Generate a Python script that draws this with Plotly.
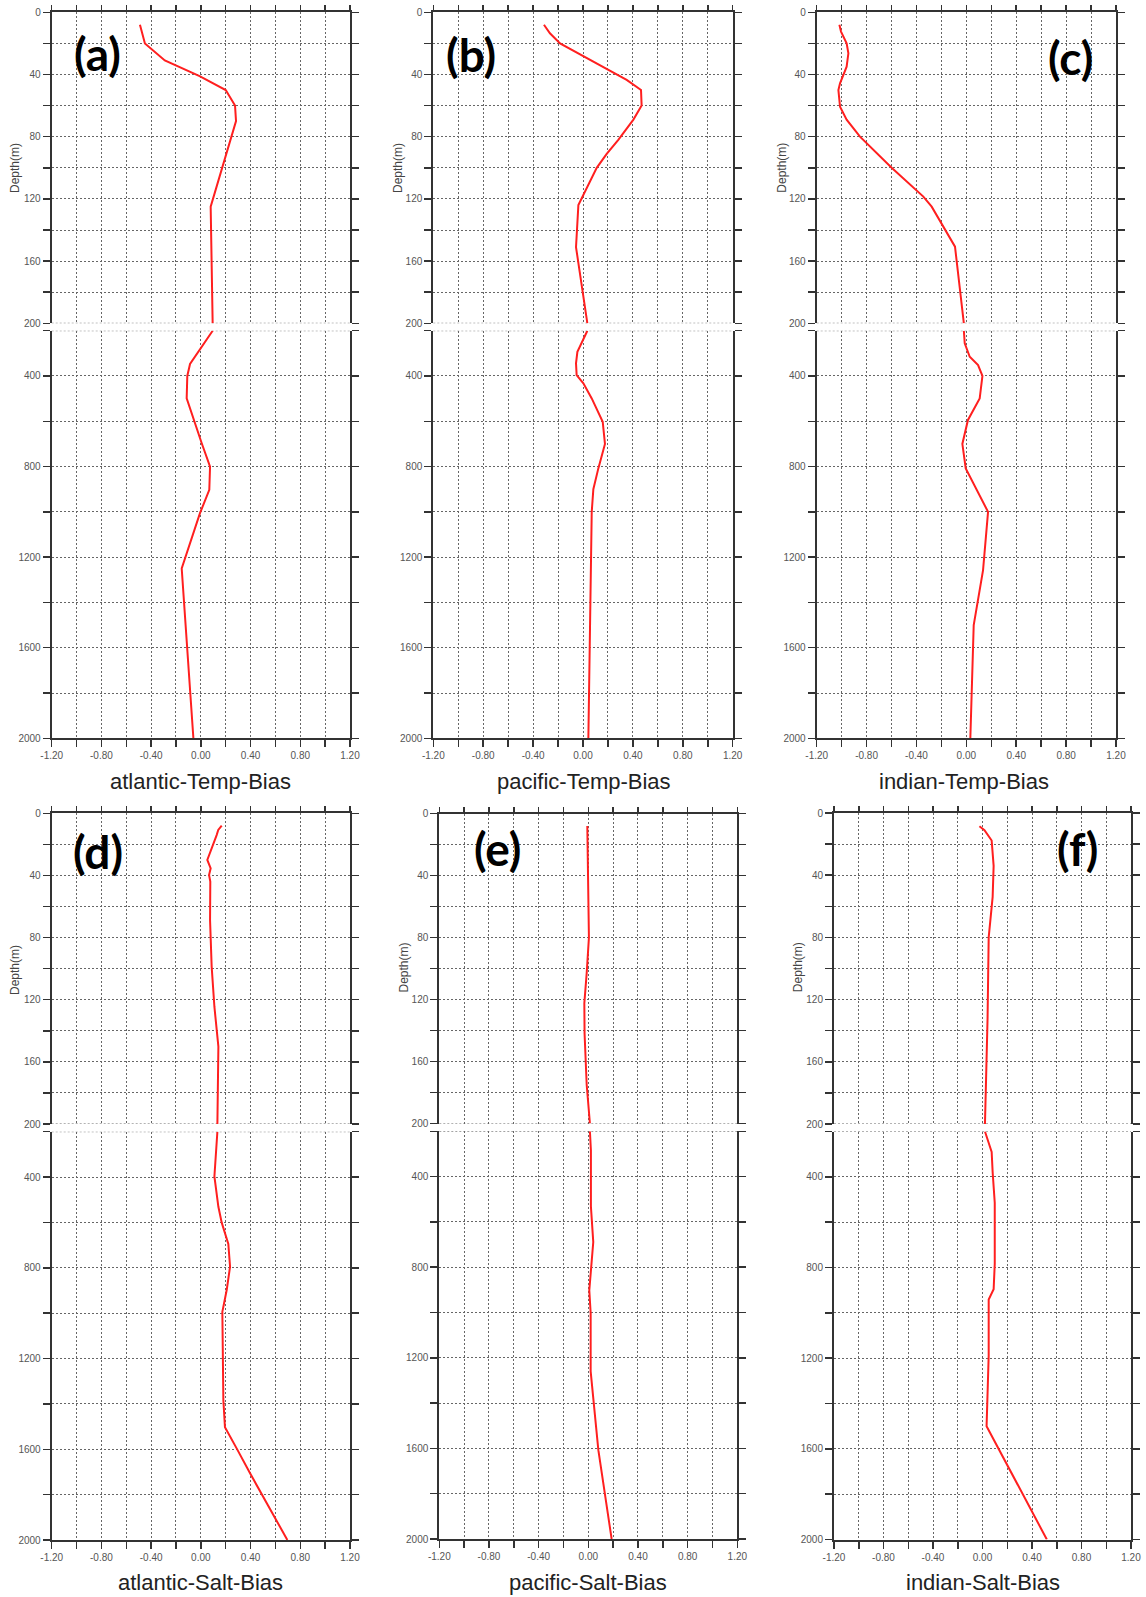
import numpy as np
import plotly.graph_objects as go

W, H = 1146, 1597

# ---------------- data ----------------
titles = ["atlantic-Temp-Bias", "pacific-Temp-Bias", "indian-Temp-Bias",
          "atlantic-Salt-Bias", "pacific-Salt-Bias", "indian-Salt-Bias"]
panel_labels = ["(a)", "(b)", "(c)", "(d)", "(e)", "(f)"]

depth_atl_t = [8, 20, 31, 41, 50, 60, 70, 125, 200, 347, 400, 499, 697, 800, 903, 1006, 1250, 2000]
bias_atl_t = [-0.49, -0.45, -0.29, -0.01, 0.20, 0.275, 0.283, 0.079, 0.095, -0.087, -0.109, -0.114,
              0.007, 0.074, 0.068, -0.007, -0.154, -0.06]

depth_pac_t = [8, 13.5, 20, 33, 43.5, 50, 60, 69, 82, 91, 100, 124, 151, 200, 293, 344, 396, 432, 499,
               602, 700, 808, 900, 1000, 2000]
bias_pac_t = [-0.313, -0.265, -0.184, 0.11, 0.35, 0.465, 0.47, 0.404, 0.283, 0.19, 0.11, -0.037, -0.056,
              0.035, -0.045, -0.056, -0.051, 0.003, 0.07, 0.158, 0.176, 0.123, 0.083, 0.07, 0.043]

depth_ind_t = [8, 12.4, 20, 26.4, 35, 45.7, 50, 56.4, 60.7, 69, 80, 100, 118.5, 125, 140, 150.7, 200,
               256, 315, 352, 400, 499, 594, 700, 808, 1000, 1257, 1500, 2000]
bias_ind_t = [-1.018, -1.005, -0.96, -0.946, -0.96, -1.013, -1.026, -1.021, -1.013, -0.96, -0.853,
              -0.599, -0.345, -0.278, -0.171, -0.091, -0.02, -0.013, 0.027, 0.094, 0.129, 0.107,
              0.013, -0.032, -0.005, 0.174, 0.134, 0.059, 0.032]

depth_atl_s = [8, 10.7, 14, 19.3, 30, 35.4, 39.7, 44, 68.7, 98.7, 124.5, 150.2, 200, 296, 397, 531,
               601, 695, 795, 898, 994, 1383, 1503, 1596, 1706, 2000]
bias_atl_s = [0.168, 0.14, 0.127, 0.101, 0.052, 0.079, 0.066, 0.076, 0.074, 0.087, 0.109, 0.141,
              0.133, 0.122, 0.109, 0.141, 0.168, 0.221, 0.235, 0.208, 0.173, 0.181, 0.194, 0.288,
              0.396, 0.696]

depth_pac_s = [8, 40, 80, 103, 122.5, 142, 175, 200, 285, 532, 689, 902, 1002, 1260, 1608, 2000]
bias_pac_s = [-0.008, 0.0, 0.005, -0.013, -0.032, -0.03, -0.013, 0.013, 0.021, 0.021, 0.04, 0.008,
              0.019, 0.019, 0.081, 0.188]

depth_ind_s = [8.5, 11, 17.7, 34, 54, 80, 132, 200, 290, 380, 514, 784, 896, 941, 1188, 1500, 2000]
bias_ind_s = [-0.025, 0.016, 0.074, 0.09, 0.082, 0.05, 0.041, 0.02, 0.074, 0.082, 0.099, 0.099,
              0.09, 0.05, 0.05, 0.033, 0.52]

depths = [depth_atl_t, depth_pac_t, depth_ind_t, depth_atl_s, depth_pac_s, depth_ind_s]
biases = [bias_atl_t, bias_pac_t, bias_ind_t, bias_atl_s, bias_pac_s, bias_ind_s]

x_ticks = [round(float(v), 2) + 0.0 for v in np.arange(-1.2, 1.201, 0.2)]
x_ticktext = [("%.2f" % (v + 0.0)).replace("-0.00", "0.00")
              if abs(round(v / 0.4) * 0.4 - v) < 1e-6 else "" for v in x_ticks]
upper_ticks = list(range(0, 201, 20))
upper_ticktext = [str(v) if v % 40 == 0 else "" for v in upper_ticks]
lower_ticks = list(range(200, 2001, 200))
lower_ticktext = [str(v) if v % 400 == 0 else "" for v in lower_ticks]

# ---------------- layout geometry (pixels) ----------------
# x0, x1, y_top, y_upper_bottom, y_lower_top, y_bottom
geom = [
    (51.7, 350.0, 12.3, 323.3, 330.7, 738.3),
    (433.3, 732.7, 12.3, 323.3, 330.7, 738.3),
    (816.7, 1116.0, 12.3, 323.3, 330.7, 738.3),
    (51.7, 350.0, 813.3, 1124.0, 1131.7, 1540.0),
    (439.3, 737.3, 813.5, 1123.5, 1131.3, 1539.0),
    (834.0, 1131.0, 813.0, 1124.0, 1131.5, 1539.5),
]
title_pos = [(200.7, 781), (583.7, 781), (963.6, 781), (200.7, 1582), (587.8, 1582), (983, 1582)]
label_pos = [(97, 53), (471, 54), (1070, 58), (98, 852), (497, 848), (1077, 848)]
depth_title_pos = [(15, 168), (398, 168), (781.7, 168), (15, 970), (403, 967.5), (797.6, 967.6)]

SPINE = "#333333"
GRID = "#666666"
TICKFONT = dict(family="Liberation Sans, Arial, sans-serif", size=10, color="#555555")
LINE = dict(color="#ff1f1f", width=2)


def fx(px):
    return px / W


def fy(py):
    return 1 - py / H


fig = go.Figure()
layout = dict(template="none", width=W, height=H, margin=dict(l=0, r=0, t=0, b=0, pad=0),
              paper_bgcolor="white", plot_bgcolor="white", showlegend=False)
annotations = []
shapes = []

for i in range(6):
    x0, x1, yt, yub, ylt, yb = geom[i]
    u = 2 * i + 1
    l = 2 * i + 2
    xu = "x" if u == 1 else "x%d" % u
    yu = "y" if u == 1 else "y%d" % u
    xl = "x%d" % l
    yl = "y%d" % l
    D = depths[i]
    V = biases[i]
    du = [d for d in D if d <= 200]
    vu = [v for d, v in zip(D, V) if d <= 200]
    dl = [d for d in D if d >= 200]
    vl = [v for d, v in zip(D, V) if d >= 200]
    fig.add_trace(go.Scatter(x=vu, y=du, xaxis=xu, yaxis=yu, mode="lines", line=LINE,
                             hoverinfo="skip"))
    fig.add_trace(go.Scatter(x=vl, y=dl, xaxis=xl, yaxis=yl, mode="lines", line=LINE,
                             hoverinfo="skip"))

    common_x = dict(range=[-1.2, 1.2], domain=[fx(x0), fx(x1)], showline=True,
                    linecolor=SPINE, linewidth=2, ticks="outside", tickcolor=SPINE,
                    tickwidth=1.5, tickvals=x_ticks, showgrid=True, gridcolor=GRID,
                    gridwidth=1, griddash="2px,2px", zeroline=False, fixedrange=True,
                    automargin=False)
    common_y = dict(showline=True, linecolor=SPINE, linewidth=2, mirror="ticks",
                    ticks="outside", ticklen=7, tickcolor=SPINE, tickwidth=1.5,
                    tickfont=TICKFONT, showgrid=True, gridcolor=GRID, gridwidth=1,
                    griddash="2px,2px", zeroline=False, fixedrange=True, automargin=False)

    layout["xaxis" if u == 1 else "xaxis%d" % u] = dict(
        common_x, anchor=yu, side="top", ticklen=5, showticklabels=False)
    layout["yaxis" if u == 1 else "yaxis%d" % u] = dict(
        common_y, anchor=xu, domain=[fy(yub), fy(yt)], range=[200, 0],
        tickvals=upper_ticks, ticktext=upper_ticktext)
    layout["xaxis%d" % l] = dict(
        common_x, anchor=yl, side="bottom", ticklen=7, tickvals=x_ticks,
        ticktext=x_ticktext, tickfont=TICKFONT)
    layout["yaxis%d" % l] = dict(
        common_y, anchor=xl, domain=[fy(yb), fy(ylt)], range=[2000, 200],
        tickvals=lower_ticks, ticktext=lower_ticktext)

    # dotted boundary grid lines at 200 m for both parts
    shapes.append(dict(type="line", xref="%s domain" % xu, yref=yu, x0=0, x1=1, y0=200, y1=200,
                       line=dict(color=GRID, width=1, dash="2px,2px"), layer="below"))
    shapes.append(dict(type="line", xref="%s domain" % xl, yref=yl, x0=0, x1=1, y0=200, y1=200,
                       line=dict(color=GRID, width=1, dash="2px,2px"), layer="below"))

    tx, ty = title_pos[i]
    annotations.append(dict(text=titles[i], x=fx(tx), y=fy(ty), xref="paper", yref="paper",
                            showarrow=False, xanchor="center", yanchor="middle",
                            font=dict(family="Liberation Sans, Arial, sans-serif", size=22,
                                      color="#222222")))
    lx, ly = label_pos[i]
    annotations.append(dict(text="<b>%s</b>" % panel_labels[i], x=fx(lx), y=fy(ly),
                            xref="paper", yref="paper", showarrow=False,
                            xanchor="center", yanchor="middle",
                            font=dict(family="Lato, Open Sans, sans-serif", size=46,
                                      color="black")))
    dx, dy = depth_title_pos[i]
    annotations.append(dict(text="Depth(m)", x=fx(dx), y=fy(dy), xref="paper", yref="paper",
                            showarrow=False, textangle=-90, xanchor="center",
                            yanchor="middle",
                            font=dict(family="Liberation Sans, Arial, sans-serif", size=12,
                                      color="#444444")))

layout["annotations"] = annotations
layout["shapes"] = shapes
fig.update_layout(**layout)
fig.write_html("out.html",
               config={"displayModeBar": False, "staticPlot": True},
               post_script="document.body.style.margin='0px';"
                           "document.body.style.overflow='hidden';")
